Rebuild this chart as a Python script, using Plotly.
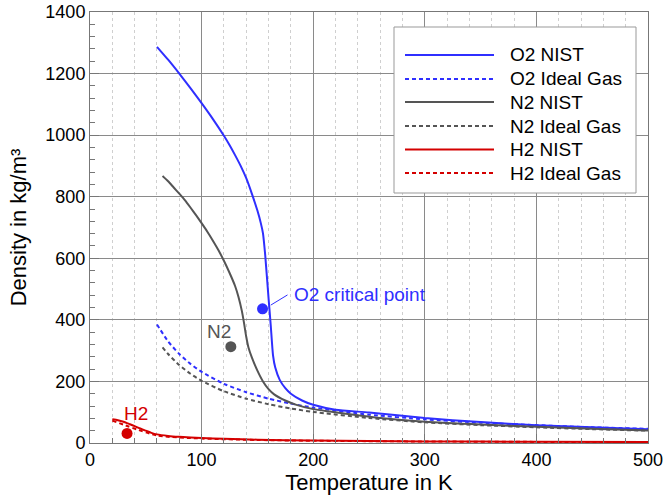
import plotly.graph_objects as go

# ---------------- data ----------------
T_O2_nist = [60, 70, 80, 90, 100, 110, 120, 125, 130, 135, 140, 145, 150, 153, 155, 157, 160, 162, 164, 166, 170, 175, 180, 190, 200, 220, 250, 300, 350, 400, 450, 500]
rho_O2_nist = [1287, 1245, 1200, 1153, 1104, 1053, 998, 968, 935, 900, 860, 810, 755, 715, 681, 610, 470, 380, 285, 245, 205, 178, 160, 138, 124, 108, 99, 81, 68, 58, 51, 45]

T_O2_ideal = [60, 70, 80, 90, 100, 120, 140, 160, 180, 200, 250, 300, 350, 400, 450, 500]
rho_O2_ideal = [385, 330, 289, 257, 231, 192, 165, 144, 128, 115, 92, 77, 66, 58, 51, 46]

T_N2_nist = [65, 70, 75, 80, 85, 90, 95, 100, 105, 110, 115, 120, 125, 130, 133, 136, 138, 140, 142, 145, 150, 155, 160, 165, 175, 185, 200, 215, 240, 260, 300, 350, 400, 450, 500]
rho_N2_nist = [867, 850, 830, 810, 789, 765, 740, 714, 687, 658, 627, 592, 553, 510, 475, 430, 390, 345, 310, 278, 235, 200, 175, 158, 138, 124, 110, 102, 90, 81, 69, 60, 53, 46, 41]

T_N2_ideal = [65, 70, 80, 90, 100, 120, 140, 160, 180, 200, 250, 300, 350, 400, 450, 500]
rho_N2_ideal = [311, 289, 253, 225, 202, 168, 144, 126, 112, 101, 81, 67, 58, 51, 45, 40]

T_H2_nist = [20, 25, 30, 35, 40, 45, 50, 55, 60, 70, 80, 100, 120, 150, 200, 250, 300, 400, 500]
rho_H2_nist = [77, 74, 69, 62, 55, 47, 40, 33, 28, 23, 20, 16, 13.5, 10.8, 8, 6.3, 5.2, 3.9, 3.1]

T_H2_ideal = [20, 60, 100, 150, 200, 300, 400, 500]
rho_H2_ideal = [72.8, 24.3, 14.6, 9.7, 7.3, 4.9, 3.6, 2.9]

# critical points
crit_names = ["O2", "N2", "H2"]
crit_T = [154.6, 126.2, 33.2]
crit_rho = [436, 313, 31]

series_names = ["O2 NIST", "O2 Ideal Gas", "N2 NIST", "N2 Ideal Gas", "H2 NIST", "H2 Ideal Gas"]

BLUE = "#2f2fff"
GRAY = "#555555"
RED = "#d40000"
FONT = "Liberation Sans, Arial, Helvetica, sans-serif"

series = [
    (T_O2_nist, rho_O2_nist, BLUE, "solid"),
    (T_O2_ideal, rho_O2_ideal, BLUE, "4px,3px"),
    (T_N2_nist, rho_N2_nist, GRAY, "solid"),
    (T_N2_ideal, rho_N2_ideal, GRAY, "4px,3px"),
    (T_H2_nist, rho_H2_nist, RED, "solid"),
    (T_H2_ideal, rho_H2_ideal, RED, "4px,3px"),
]

fig = go.Figure()
for (xs, ys, col, dash), name in zip(series, series_names):
    fig.add_trace(go.Scatter(x=xs, y=ys, mode="lines", name=name,
                             line=dict(color=col, width=2, dash=dash, shape="spline", smoothing=0.6),
                             showlegend=False))

crit_colors = [BLUE, GRAY, RED]
fig.add_trace(go.Scatter(x=crit_T, y=crit_rho, mode="markers", text=crit_names,
                         marker=dict(size=11, color=crit_colors),
                         showlegend=False))

# ---------------- layout ----------------
W, H = 670, 496
ML, MR, MT, MB = 90, 22, 12, 53
PW, PH = W - ML - MR, H - MT - MB


def px(xp):
    return (xp - ML) / PW


def py(yp):
    return (H - MB - yp) / PH


shapes = []
annotations = []

# manual legend
shapes.append(dict(type="rect", xref="paper", yref="paper",
                   x0=px(394), x1=px(636), y0=py(193), y1=py(27),
                   fillcolor="white", line=dict(color="#999999", width=1), layer="above"))
row_y = [55, 79, 102, 126, 149.5, 173]
for (xs, ys, col, dash), name, ry in zip(series, series_names, row_y):
    shapes.append(dict(type="line", xref="paper", yref="paper",
                       x0=px(405), x1=px(494), y0=py(ry), y1=py(ry),
                       line=dict(color=col, width=2, dash=dash),
                       layer="above"))
    annotations.append(dict(xref="paper", yref="paper", x=px(508), y=py(ry),
                            text=name, showarrow=False, xanchor="left", yanchor="middle",
                            font=dict(family=FONT, size=19, color="black")))

# critical point labels
shapes.append(dict(type="line", xref="x", yref="y", x0=162, y0=448, x1=177, y1=481,
                   line=dict(color=BLUE, width=1)))
annotations.append(dict(x=181, y=481, xref="x", yref="y", text="O2 critical point",
                        showarrow=False, xanchor="left", yanchor="middle",
                        font=dict(family=FONT, size=19, color=BLUE)))
annotations.append(dict(x=115.6, y=362, xref="x", yref="y", text="N2",
                        showarrow=False, xanchor="center", yanchor="middle",
                        font=dict(family=FONT, size=19, color=GRAY)))
annotations.append(dict(x=41.5, y=95, xref="x", yref="y", text="H2",
                        showarrow=False, xanchor="center", yanchor="middle",
                        font=dict(family=FONT, size=19, color=RED)))

fig.update_layout(
    width=W, height=H,
    margin=dict(l=ML, r=MR, t=MT, b=MB, pad=0),
    paper_bgcolor="white", plot_bgcolor="white",
    font=dict(family=FONT, size=18, color="black"),
    shapes=shapes, annotations=annotations,
    showlegend=False,
)
fig.update_xaxes(
    range=[0, 500], dtick=100, tick0=0, automargin=False,
    showline=True, linecolor="#777777", linewidth=1, mirror=True,
    showgrid=True, gridcolor="#8a8a8a", gridwidth=1,
    zeroline=False,
    ticks="inside", ticklen=9, tickcolor="#777777",
    tickfont=dict(family=FONT, size=18),
    minor=dict(dtick=20, ticks="inside", ticklen=5, tickcolor="#777777",
               showgrid=True, gridcolor="#cfcfcf", griddash="dot", gridwidth=1),
    title=dict(text="Temperature in K", font=dict(family=FONT, size=22), standoff=2),
)
fig.update_yaxes(
    range=[0, 1400], dtick=200, tick0=0, automargin=False,
    showline=True, linecolor="#777777", linewidth=1, mirror=True,
    showgrid=True, gridcolor="#8a8a8a", gridwidth=1,
    zeroline=False,
    ticks="inside", ticklen=9, tickcolor="#777777",
    tickfont=dict(family=FONT, size=18),
    minor=dict(dtick=40, ticks="inside", ticklen=5, tickcolor="#777777", showgrid=False),
    title=dict(text="Density in kg/m³", font=dict(family=FONT, size=22), standoff=12),
)

fig.write_html("out.html",
               config={"displayModeBar": False, "staticPlot": True},
               post_script="document.body.style.margin='0';document.body.style.overflow='hidden';")
